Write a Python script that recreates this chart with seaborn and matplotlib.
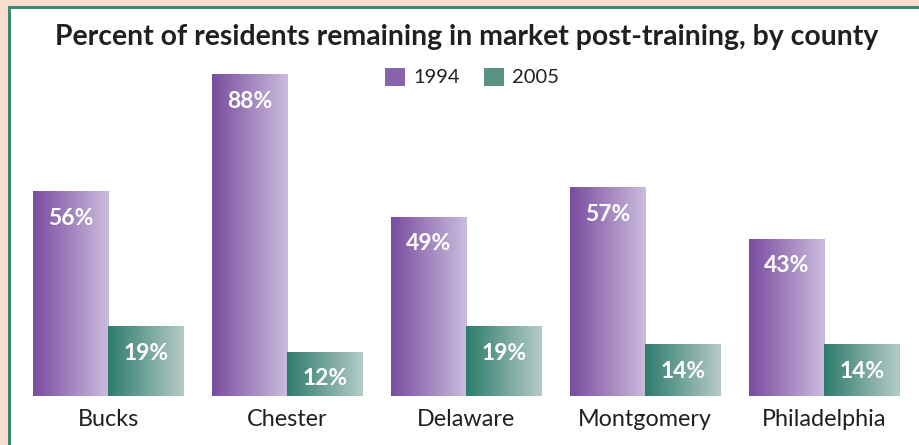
import numpy as np
import pandas as pd
import seaborn as sns
import matplotlib.pyplot as plt
from matplotlib.patches import Rectangle, Patch
from matplotlib.colors import LinearSegmentedColormap

counties = ["Bucks", "Chester", "Delaware", "Montgomery", "Philadelphia"]
years = ["1994", "2005"]
pct_1994 = [56, 88, 49, 57, 43]
pct_2005 = [19, 12, 19, 14, 14]
title = "Percent of residents remaining in market post-training, by county"

df = pd.DataFrame({
    "County": counties * 2,
    "Year": [years[0]] * len(counties) + [years[1]] * len(counties),
    "Percent": pct_1994 + pct_2005,
})

sns.set_theme(style="white")
plt.rcParams['font.family'] = ['Lato', 'DejaVu Sans']

W, H = 919, 445
fig = plt.figure(figsize=(W / 100, H / 100), dpi=100)
fig.patch.set_facecolor('#F8DCCC')
teal = '#3A877A'
fig.patches.append(Rectangle((8 / W, 0), 1 - 8 / W, (H - 6) / H, transform=fig.transFigure,
                             facecolor=teal, edgecolor='none', zorder=-10))
fig.patches.append(Rectangle((11 / W, 0), 1 - 11 / W, (H - 9) / H, transform=fig.transFigure,
                             facecolor='white', edgecolor='none', zorder=-9))

ax = fig.add_axes([12 / W, 49 / H, 1 - 12 / W, 365 / H])
ax.set_facecolor('none')

legend_cols = ['#8A63AD', '#5A9384']
sns.barplot(data=df, x="County", y="Percent", hue="Year", palette=legend_cols,
            width=0.84, saturation=1, ax=ax, legend=False)

grads = [('#7A4C9F', '#CBBCDE'), ('#2E7C6D', '#B5CBC7')]
g = np.linspace(0, 1, 256).reshape(1, -1)
for container, (c0, c1) in zip(ax.containers, grads):
    cmap = LinearSegmentedColormap.from_list('g', [c0, c1])
    for bar in container:
        x, y = bar.get_xy()
        w, h = bar.get_width(), bar.get_height()
        ax.imshow(g, extent=[x, x + w, y, y + h], cmap=cmap, aspect='auto',
                  origin='lower', zorder=2, interpolation='bilinear')
        bar.set_facecolor('none')
        bar.set_edgecolor('none')
        ax.annotate(f"{int(round(h))}%", xy=(x + w / 2, y + h), xytext=(0, -11.5),
                    textcoords='offset points', ha='center', va='top',
                    color='white', fontweight='bold', fontsize=16.5, zorder=3)

x0 = -0.42 - 21 / 179
ax.set_xlim(x0, x0 + 907 / 179)
ax.set_ylim(0, 100)
ax.set_yticks([])
ax.set_xlabel('')
ax.set_ylabel('')
for s in ax.spines.values():
    s.set_visible(False)
ax.tick_params(axis='x', length=0, pad=9.5, labelsize=16.8, labelcolor='#231F20')

fig.text(466.5 / W, 1 - 37.5 / H, title, ha='center', va='center', fontsize=20.4,
         fontweight='bold', color='#231F20')

handles = [Patch(facecolor=c, edgecolor='none', label=lab) for c, lab in zip(legend_cols, years)]
fig.legend(handles=handles, loc='center left', bbox_to_anchor=(385 / W, 1 - 77 / H),
           ncol=2, frameon=False, fontsize=14.5, handlelength=1.0, handleheight=1.0,
           handletextpad=0.4, columnspacing=1.2, borderpad=0, borderaxespad=0,
           labelcolor='#231F20')

fig.savefig('out.png', dpi=100)
